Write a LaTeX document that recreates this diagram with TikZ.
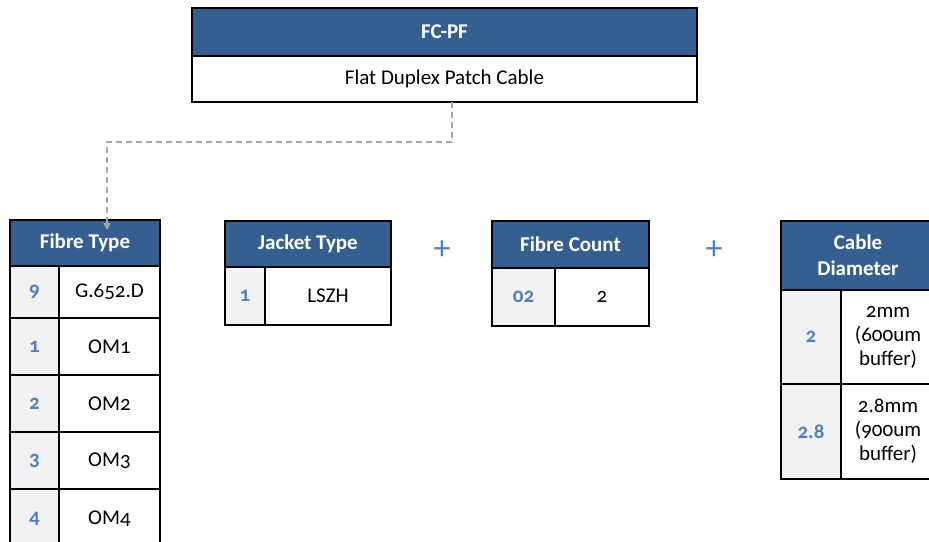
\documentclass[tikz,border=0pt]{standalone}
\usepackage{fontspec}
\setmainfont{Carlito}[Numbers=OldStyle]
\usetikzlibrary{arrows.meta,calc}
\definecolor{hdr}{HTML}{365F91}
\definecolor{num}{HTML}{4F81BD}
\definecolor{cellg}{HTML}{F2F2F2}
\definecolor{dash}{HTML}{A6A6A6}
\tikzset{
  base/.style={draw=black, line width=1.6pt, inner sep=0pt, outer sep=0pt, anchor=north west, align=center},
  headcell/.style={base, fill=hdr, text=white, font=\fontsize{21}{26}\selectfont\bfseries},
  valcell/.style={base, fill=white, text=black, font=\fontsize{21}{24}\selectfont},
  numcell/.style={base, fill=cellg, text=num, font=\fontsize{21}{24}\selectfont\bfseries},
  plus/.style={text=num, font=\fontsize{34}{36}\selectfont},
  conn/.style={draw=dash, line width=1.3pt, dash pattern=on 6pt off 4pt, -{Triangle[length=7pt,width=7pt]}}
}
\newcommand\cellbox[7]{\node[#6, minimum width={(#4)-(#2)}, minimum height={(#5)-(#3)}] (#1) at (#2,-#3) {#7};}
\begin{document}
\begin{tikzpicture}[x=1pt,y=1pt]
\useasboundingbox[fill=white] (0,0) rectangle (929,-541);
% top
\cellbox{tophead}{192}{8}{697}{56}{headcell}{FC-PF}
\cellbox{topbody}{192}{56}{697}{102}{valcell}{Flat Duplex Patch Cable}
% fibre type
\cellbox{fth}{10}{220}{160}{266}{headcell}{Fibre Type}
\cellbox{ftn1}{10}{266}{59}{318}{numcell}{9}
\cellbox{ftv1}{59}{266}{160}{318}{valcell}{G.652.D}
\cellbox{ftn2}{10}{318}{59}{375}{numcell}{1}
\cellbox{ftv2}{59}{318}{160}{375}{valcell}{OM1}
\cellbox{ftn3}{10}{375}{59}{432}{numcell}{2}
\cellbox{ftv3}{59}{375}{160}{432}{valcell}{OM2}
\cellbox{ftn4}{10}{432}{59}{489}{numcell}{3}
\cellbox{ftv4}{59}{432}{160}{489}{valcell}{OM3}
\cellbox{ftn5}{10}{489}{59}{548}{numcell}{4}
\cellbox{ftv5}{59}{489}{160}{548}{valcell}{OM4}
% jacket type
\cellbox{jth}{225}{221}{391}{267}{headcell}{Jacket Type}
\cellbox{jtn1}{225}{267}{265}{325}{numcell}{1}
\cellbox{jtv1}{265}{267}{391}{325}{valcell}{LSZH}
% plus
\node[plus] (p1) at (442,-250) {+};
\node[plus] (p2) at (714,-250) {+};
% fibre count
\cellbox{fch}{492}{221}{649}{268}{headcell}{Fibre Count}
\cellbox{fcn1}{492}{268}{555}{326}{numcell}{02}
\cellbox{fcv1}{555}{268}{649}{326}{valcell}{2}
% cable diameter
\cellbox{cdh}{781}{221}{935}{290}{headcell}{Cable\\Diameter}
\cellbox{cdn1}{781}{290}{841}{384}{numcell}{2}
\cellbox{cdv1}{841}{290}{935}{384}{valcell}{2mm\\(600um\\buffer)}
\cellbox{cdn2}{781}{384}{841}{479}{numcell}{2.8}
\cellbox{cdv2}{841}{384}{935}{479}{valcell}{2.8mm\\(900um\\buffer)}
% connector
\coordinate (cstart) at ($(topbody.south west)+(260,0)$);
\coordinate (cend) at ($(fth.north west)+(97,-10)$);
\draw[conn] (cstart) -- ++(0,-40) -| (cend);
\end{tikzpicture}
\end{document}
